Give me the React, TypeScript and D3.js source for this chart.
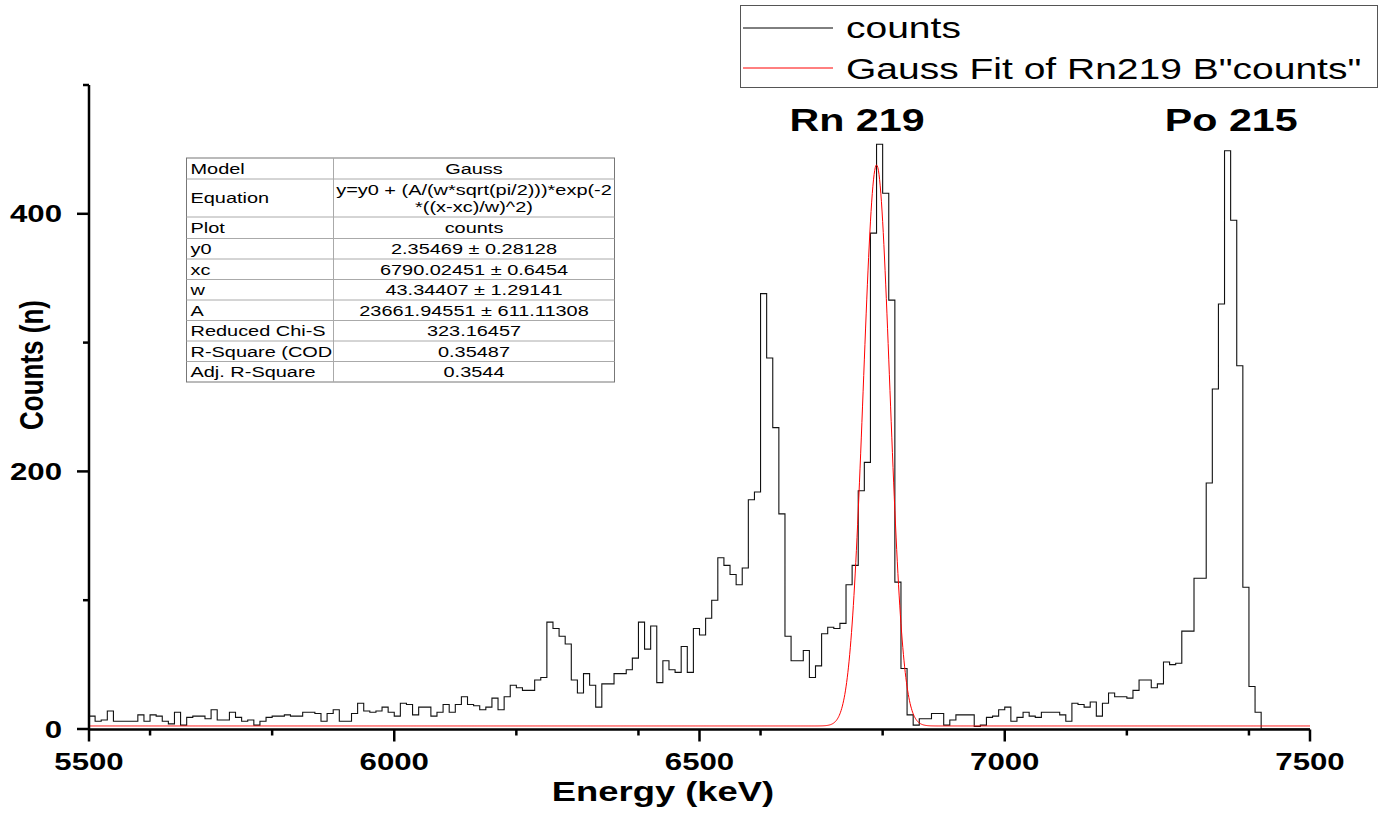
import React from "react";
import * as d3 from "d3";

const WIDTH = 1386;
const HEIGHT = 814;
const FONT = "'Liberation Sans', Arial, Helvetica, sans-serif";
const STRETCH = 1.3; // the source image is stretched horizontally

// histogram: 10 keV bins starting at 5500 keV
const ENERGY_START = 5500;
const BIN_WIDTH = 10;
const COUNTS = [
  10, 6, 7, 14, 6, 6, 6, 6, 11, 6, 11, 10, 6, 4, 13, 3, 9, 10, 10, 8,
  15, 7, 7, 13, 9, 6, 7, 3, 6, 9, 10, 10, 11, 10, 10, 13, 13, 12, 6, 12,
  15, 6, 6, 12, 20, 14, 13, 14, 17, 13, 10, 20, 19, 11, 17, 17, 10, 13, 19, 13,
  19, 25, 19, 18, 15, 17, 24, 15, 25, 34, 32, 30, 30, 38, 40, 83, 78, 72, 66, 38,
  28, 43, 34, 17, 35, 35, 43, 43, 46, 55, 83, 62, 80, 36, 53, 46, 44, 64, 44, 78,
  73, 86, 100, 133, 127, 120, 112, 125, 178, 184, 338, 288, 234, 167, 72, 53, 53, 61, 40, 49,
  74, 79, 78, 82, 112, 127, 185, 207, 385, 454, 416, 333, 114, 47, 11, 3, 8, 8, 12, 12,
  3, 7, 11, 11, 11, 2, 3, 9, 10, 15, 17, 6, 9, 13, 10, 9, 13, 13, 13, 11,
  6, 20, 19, 17, 21, 10, 20, 28, 25, 25, 24, 30, 38, 38, 32, 35, 52, 50, 51, 76,
  76, 117, 117, 191, 264, 330, 449, 395, 282, 110, 33, 13, 0, 0, 0, 0, 0, 0, 0, 0,
];

// Gauss fit parameters (Origin report)
const FIT_NAMES = ["y0", "xc", "w", "A"];
const FIT_VALUES = [2.35469, 6790.02451, 43.34407, 23661.94551];
const FIT_ERRORS = [0.28128, 0.6454, 1.29141, 611.11308];
const STAT_NAMES = ["Reduced Chi-S", "R-Square (COD", "Adj. R-Square"];
const STAT_VALUES = ["323.16457", "0.35487", "0.3544"];

const X_DOMAIN = [5500, 7500];
const Y_DOMAIN = [0, 500];
const LEGEND_LABELS = ["counts", 'Gauss Fit of Rn219 B"counts"'];
const LEGEND_COLORS = ["#000000", "#ff0000"];
const PEAKS = [
  { name: "Rn 219", energy: 6758 },
  { name: "Po 215", energy: 7371 },
];

const margin = { left: 89, right: 76, top: 85, bottom: 85 };

function SText({ x, y, size, weight = "normal", anchor = "start", sx = STRETCH, rotate, fill = "#000", children }: any) {
  return (
    <text
      transform={`translate(${x},${y}) scale(${sx},1)${rotate ? ` rotate(${rotate})` : ""}`}
      fontSize={size}
      fontWeight={weight}
      textAnchor={anchor}
      fill={fill}
      fontFamily={FONT}
    >
      {children}
    </text>
  );
}

export default function App() {
  const x = d3.scaleLinear().domain(X_DOMAIN).range([margin.left, WIDTH - margin.right]);
  const y = d3.scaleLinear().domain(Y_DOMAIN).range([HEIGHT - margin.bottom, margin.top]);

  // step histogram
  const pts: [number, number][] = COUNTS.map((c, i) => [ENERGY_START + i * BIN_WIDTH, c]);
  pts.push([ENERGY_START + COUNTS.length * BIN_WIDTH, COUNTS[COUNTS.length - 1]]);
  const histPath = d3
    .line<[number, number]>()
    .x((d) => x(d[0]))
    .y((d) => y(d[1]))
    .curve(d3.curveStepAfter)(pts);

  // fitted gauss curve
  const [y0, xc, w, A] = FIT_VALUES;
  const gauss = (e: number) => y0 + (A / (w * Math.sqrt(Math.PI / 2))) * Math.exp(-2 * ((e - xc) / w) ** 2);
  const fitPts = d3.range(X_DOMAIN[0], X_DOMAIN[1] + 0.5, 1).map((e) => [e, gauss(e)] as [number, number]);
  const fitPath = d3
    .line<[number, number]>()
    .x((d) => x(d[0]))
    .y((d) => y(d[1]))(fitPts);

  const xMajor = x.ticks(4);
  const xMinor = x.ticks(8).filter((t) => !xMajor.includes(t));
  const yMajor = y.ticks(3);
  const yMinor = y.ticks(5).filter((t) => !yMajor.includes(t));

  const x0 = x(X_DOMAIN[0]);
  const yBase = y(0) + 0.5;

  // fit report table
  const tableRows: { label: string; value: string[]; h: number }[] = [
    { label: "Model", value: ["Gauss"], h: 21 },
    { label: "Equation", value: ["y=y0 + (A/(w*sqrt(pi/2)))*exp(-2", "*((x-xc)/w)^2)"], h: 38 },
    { label: "Plot", value: ["counts"], h: 21.5 },
    ...FIT_NAMES.map((n, i) => ({ label: n, value: [`${FIT_VALUES[i]} \u00b1 ${FIT_ERRORS[i]}`], h: 20.5 })),
    ...STAT_NAMES.map((n, i) => ({ label: n, value: [STAT_VALUES[i]], h: 20.5 })),
  ];
  const tLeft = 186.5;
  const tRight = 614.5;
  const tMid = 333.5;
  const tTop = 158;
  let acc = tTop;
  const rowTops = tableRows.map((r) => {
    const t = acc;
    acc += r.h;
    return t;
  });
  const tBottom = acc;
  const TS = 15;
  const TSX = 1.33;

  return (
    <svg
      width={WIDTH}
      height={HEIGHT}
      style={{ position: "absolute", left: 0, top: 0, background: "#fff", display: "block" }}
    >
      <rect width={WIDTH} height={HEIGHT} fill="#fff" />

      {/* data */}
      <path d={histPath || ""} fill="none" stroke="#111" strokeWidth={1.1} />
      <path d={fitPath || ""} fill="none" stroke="#ff0000" strokeWidth={1} />

      {/* axes */}
      <g stroke="#000" strokeWidth={2.5}>
        <line x1={x0} x2={x(X_DOMAIN[1])} y1={yBase} y2={yBase} />
        <line x1={x0} x2={x0} y1={y(Y_DOMAIN[1])} y2={yBase} />
        {xMajor.map((t) => (
          <line key={"xM" + t} x1={x(t)} x2={x(t)} y1={yBase} y2={yBase + 12} />
        ))}
        {xMinor.map((t) => (
          <line key={"xm" + t} x1={x(t)} x2={x(t)} y1={yBase} y2={yBase + 6} />
        ))}
        {yMajor.map((t) => (
          <line key={"yM" + t} x1={x0} x2={x0 - 12} y1={y(t)} y2={y(t)} />
        ))}
        {yMinor.map((t) => (
          <line key={"ym" + t} x1={x0} x2={x0 - 6} y1={y(t)} y2={y(t)} />
        ))}
      </g>
      {xMajor.map((t) => (
        <SText key={"xl" + t} x={x(t)} y={769.5} size={24} weight="bold" anchor="middle">
          {t}
        </SText>
      ))}
      {yMajor.map((t) => (
        <SText key={"yl" + t} x={62} y={y(t) + 8.5} size={24} weight="bold" anchor="end">
          {t}
        </SText>
      ))}
      <SText x={663} y={801} size={28} weight="bold" anchor="middle">
        Energy (keV)
      </SText>
      <SText x={43} y={365} size={26} weight="bold" anchor="middle" rotate={-90}>
        Counts (n)
      </SText>

      {/* peak labels */}
      {PEAKS.map((p) => (
        <SText key={p.name} x={x(p.energy)} y={131} size={31} weight="bold" anchor="middle" sx={1.33}>
          {p.name}
        </SText>
      ))}

      {/* fit table */}
      <g>
        <rect x={tLeft} y={tTop} width={tRight - tLeft} height={tBottom - tTop} fill="#fff" stroke="#777" strokeWidth={1} />
        <line x1={tMid} x2={tMid} y1={tTop} y2={tBottom} stroke="#aaa" strokeWidth={1} />
        {rowTops.slice(1).map((t, i) => (
          <line key={"rl" + i} x1={tLeft} x2={tRight} y1={t} y2={t} stroke="#aaa" strokeWidth={1} />
        ))}
        {tableRows.map((r, i) => {
          const cy = rowTops[i] + r.h / 2;
          return (
            <g key={"row" + i}>
              <SText x={tLeft + 4} y={cy + 5.3} size={TS} sx={TSX}>
                {r.label}
              </SText>
              {r.value.length === 1 ? (
                <SText x={(tMid + tRight) / 2} y={cy + 5.3} size={TS} sx={TSX} anchor="middle">
                  {r.value[0]}
                </SText>
              ) : (
                r.value.map((v, j) => (
                  <SText key={j} x={(tMid + tRight) / 2} y={cy - 3 + j * 16.5} size={TS} sx={TSX} anchor="middle">
                    {v}
                  </SText>
                ))
              )}
            </g>
          );
        })}
      </g>

      {/* legend */}
      <g>
        <rect x={740.5} y={5.5} width={637} height={82} fill="#fff" stroke="#555" strokeWidth={1} />
        {LEGEND_LABELS.map((l, i) => {
          const cy = 28 + i * 40;
          return (
            <g key={l}>
              <line x1={743} x2={833} y1={cy} y2={cy} stroke={LEGEND_COLORS[i]} strokeWidth={1} />
              <SText x={846} y={cy + (i === 0 ? 10 : 11)} size={30}>
                {l}
              </SText>
            </g>
          );
        })}
      </g>
    </svg>
  );
}
